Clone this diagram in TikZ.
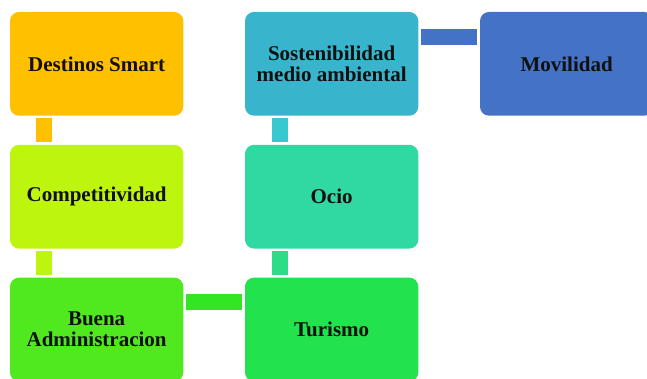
\documentclass[tikz,border=0pt]{standalone}
\usepackage{fontspec}
\setmainfont{Liberation Serif}
\definecolor{cA}{HTML}{FFC000}
\definecolor{cB}{HTML}{BEF50E}
\definecolor{cC}{HTML}{50E81E}
\definecolor{cCD}{HTML}{32E622}
\definecolor{cD}{HTML}{22E24E}
\definecolor{cDE}{HTML}{2CDC86}
\definecolor{cE}{HTML}{30D8A2}
\definecolor{cEF}{HTML}{38C8D0}
\definecolor{cF}{HTML}{38B4CC}
\definecolor{cG}{HTML}{4472C4}
\definecolor{txt}{HTML}{101010}
\tikzset{
  box/.style={rounded corners=9pt, minimum width=173.3pt, minimum height=103.7pt,
    inner sep=0pt, align=center, text=txt,
    font=\fontsize{21}{21}\selectfont\bfseries},
  conn/.style={line width=16pt}
}
\begin{document}
\begin{tikzpicture}[x=1pt,y=1pt]
\useasboundingbox (0,0) rectangle (647,379);
\node[box, fill=cA] (A) at (96.65,315.15) {Destinos Smart};
\node[box, fill=cB] (B) at (96.65,182.3) {Competitividad};
\node[box, fill=cC] (C) at (96.65,49.5) {Buena\\Administracion};
\node[box, fill=cD] (D) at (331.65,49.5) {Turismo};
\node[box, fill=cE] (E) at (331.65,182.3) {Ocio};
\node[box, fill=cF] (F) at (331.65,315.15) {Sostenibilidad\\medio ambiental};
\node[box, fill=cG] (G) at (566.65,315.15) {Movilidad};
\draw[conn, cA] ([shift={(34,-2.3)}]A.south west) -- ([shift={(34,2.3)}]B.north west);
\draw[conn, cB] ([shift={(34,-2.3)}]B.south west) -- ([shift={(34,2.3)}]C.north west);
\draw[conn, cCD] ([shift={(2.7,-25)}]C.north east) -- ([shift={(-2.7,-25)}]D.north west);
\draw[conn, cDE] ([shift={(35,2.3)}]D.north west) -- ([shift={(35,-2.3)}]E.south west);
\draw[conn, cEF] ([shift={(35,2.3)}]E.north west) -- ([shift={(35,-2.3)}]F.south west);
\draw[conn, cG] ([shift={(2.7,-25.5)}]F.north east) -- ([shift={(-2.7,-25.5)}]G.north west);
\end{tikzpicture}
\end{document}
